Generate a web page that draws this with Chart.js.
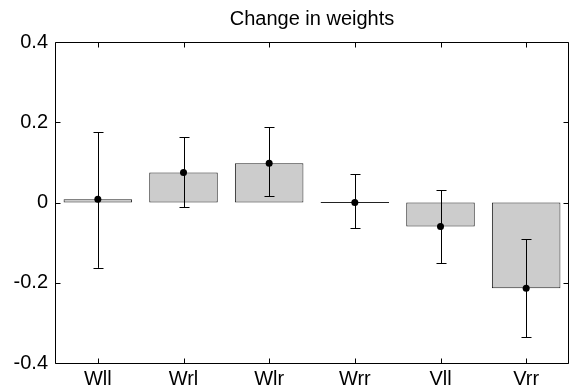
<!DOCTYPE html>
<html>
<head>
<meta charset="utf-8">
<script src="https://cdn.jsdelivr.net/npm/chart.js@4"></script>
<style>
  body { margin: 0; background: #fff; }
  canvas { display: block; }
</style>
</head>
<body>
<canvas id="grafico" width="573" height="387"></canvas>
<script>
// dados
const categorias = ['Wll', 'Wrl', 'Wlr', 'Wrr', 'Vll', 'Vrr'];
const medias = [0.008, 0.075, 0.098, 0.0, -0.060, -0.214];
const erroMin = [-0.163, -0.012, 0.015, -0.064, -0.152, -0.336];
const erroMax = [0.175, 0.162, 0.188, 0.070, 0.031, -0.092];
const ticksY = [-0.4, -0.2, 0, 0.2, 0.4];

const fonte = "'Liberation Sans', Arial, sans-serif";

// barras de erro + moldura com ticks para dentro (estilo matlab)
const estiloMatlab = {
    id: 'estiloMatlab',
    afterDatasetDraw(chart, args) {
        if (args.index !== 0) return;
        const ctx = chart.ctx;
        const x = chart.scales.x, y = chart.scales.y;
        ctx.save();
        ctx.strokeStyle = '#000';
        ctx.lineWidth = 1;
        categorias.forEach((c, i) => {
            const px = Math.round(x.getPixelForValue(i)) + 0.5;
            const y1 = y.getPixelForValue(erroMin[i]);
            const y2 = y.getPixelForValue(erroMax[i]);
            ctx.beginPath();
            ctx.moveTo(px, y1); ctx.lineTo(px, y2);
            ctx.moveTo(px - 5, Math.round(y1) + 0.5); ctx.lineTo(px + 5, Math.round(y1) + 0.5);
            ctx.moveTo(px - 5, Math.round(y2) + 0.5); ctx.lineTo(px + 5, Math.round(y2) + 0.5);
            ctx.stroke();
        });
        ctx.restore();
    },
    afterDraw(chart) {
        const ctx = chart.ctx;
        const a = chart.chartArea;
        const x = chart.scales.x, y = chart.scales.y;
        const l = Math.round(a.left) + 0.5, r = Math.round(a.right) - 0.5;
        const t = Math.round(a.top) + 0.5, b = Math.round(a.bottom) + 0.5;
        ctx.save();
        ctx.strokeStyle = '#000';
        ctx.lineWidth = 1;
        ctx.beginPath();
        ctx.rect(l, t, r - l, b - t);
        ticksY.forEach(v => {
            const py = Math.round(y.getPixelForValue(v)) + 0.5;
            ctx.moveTo(l, py); ctx.lineTo(l + 5, py);
            ctx.moveTo(r, py); ctx.lineTo(r - 5, py);
        });
        categorias.forEach((c, i) => {
            const px = Math.round(x.getPixelForValue(i)) + 0.5;
            ctx.moveTo(px, b); ctx.lineTo(px, b - 5);
            ctx.moveTo(px, t); ctx.lineTo(px, t + 5);
        });
        ctx.stroke();
        ctx.restore();
    }
};

const ctx = document.getElementById('grafico').getContext('2d');
const chart = new Chart(ctx, {
    type: 'bar',
    data: {
        labels: categorias,
        datasets: [{
            type: 'bar',
            data: medias,
            backgroundColor: '#cccccc',
            borderColor: '#222222',
            borderWidth: 1,
            borderSkipped: false,
            minBarLength: 1,
            barPercentage: 0.8,
            categoryPercentage: 1.0,
            order: 1
        }, {
            type: 'line',
            data: medias,
            showLine: false,
            pointRadius: 3.5,
            pointBackgroundColor: '#000',
            pointBorderColor: '#000',
            pointBorderWidth: 0,
            order: 0
        }]
    },
    options: {
        responsive: false,
        animation: false,
        layout: { padding: { left: 0, right: 1, top: 0, bottom: 0 } },
        plugins: {
            legend: { display: false },
            tooltip: { enabled: false },
            title: {
                display: true,
                fullSize: false,
                text: 'Change in weights',
                color: '#000',
                font: { family: fonte, size: 20, weight: 'normal' },
                padding: { top: 7, bottom: 11 }
            }
        },
        scales: {
            x: {
                grid: { display: false, drawTicks: false },
                border: { display: false },
                ticks: { color: '#000', font: { family: fonte, size: 20 }, padding: 4 },
                afterFit(scale) { scale.height = 24; }
            },
            y: {
                min: -0.4,
                max: 0.4,
                grid: { display: false, drawTicks: false },
                border: { display: false },
                afterBuildTicks(scale) { scale.ticks = ticksY.map(v => ({ value: v })); },
                ticks: {
                    color: '#000',
                    font: { family: fonte, size: 20 },
                    padding: 7,
                    callback: v => String(v)
                },
                afterFit(scale) { scale.width = 55; }
            }
        }
    },
    plugins: [estiloMatlab]
});
</script>
</body>
</html>
